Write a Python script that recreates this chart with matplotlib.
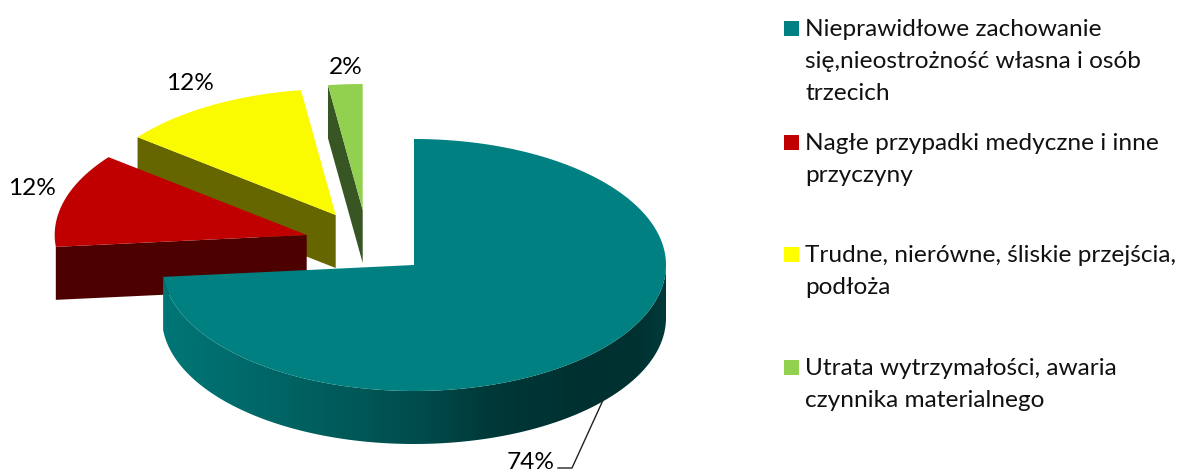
import numpy as np
import matplotlib
matplotlib.use("Agg")
import matplotlib.pyplot as plt
from matplotlib.patches import Polygon

# data
shares = [73.5, 12.1, 12.2, 2.2]
value_labels = ["74%", "12%", "12%", "2%"]
categories = [
    "Nieprawidłowe zachowanie\nsię,nieostrożność własna i osób\ntrzecich",
    "Nagłe przypadki medyczne i inne\nprzyczyny",
    "Trudne, nierówne, śliskie przejścia,\npodłoża",
    "Utrata wytrzymałości, awaria\nczynnika materialnego",
]
top_colors = ["#008080", "#C00000", "#FAFA00", "#92D050"]
legend_colors = ["#008080", "#C00000", "#FFFF00", "#92D050"]
cut_colors = [None, "#4D0000", "#666600", "#375623"]

# layout (pixels)
W, H = 1185, 473
CENTER = (414.0, 265.0)
RX, RY, DEPTH = 252.0, 126.0, 53.0
EXPLODE = [(0, 0), (-107.3, -30), (-78.3, -50), (-51.3, -55)]
LABEL_POS = [(531, 462.5), (32, 188), (190, 84), (345.5, 67)]
LEGEND_X, LEGEND_TEXT_X = 784, 805
LEGEND_FIRST_LINE = [28, 142, 254, 367]
LINE_STEP = 32
TEXT_DY = 1.5
FONT = "Lato"
FS = 17.6

fig = plt.figure(figsize=(W / 100, H / 100), dpi=100)
ax = fig.add_axes([0, 0, 1, 1])
ax.axis("off")


def point(deg, c):
    t = np.radians(deg)
    return c[0] + RX * np.sin(t), c[1] - RY * np.cos(t)


edges = np.concatenate([[0], np.cumsum(shares) * 3.6])
slices = [(edges[i], edges[i + 1], (CENTER[0] + EXPLODE[i][0], CENTER[1] + EXPLODE[i][1]))
          for i in range(len(shares))]


def top_poly(a0, a1, c):
    th = np.linspace(a0, a1, 200)
    xs, ys = point(th, c)
    return np.column_stack([np.r_[c[0], xs], np.r_[c[1], ys]])


def cut_face(deg, c):
    x, y = point(deg, c)
    return [(x, y), c, (c[0], c[1] + DEPTH), (x, y + DEPTH)]


# small slices, back to front
for i, z in [(3, 2), (2, 3), (1, 4)]:
    a0, a1, c = slices[i]
    ax.add_patch(Polygon(cut_face(a0, c), closed=True, fc=cut_colors[i], ec="none", zorder=z))
    ax.add_patch(Polygon(top_poly(a0, a1, c), closed=True, fc=top_colors[i], ec="none", zorder=z + 0.1))

# main slice: rim with a smooth left-to-right shade, clipped to the rim outline
a0, a1, c = slices[0]
stops_x = [163, 230, 330, 420, 490, 590, 640, 666]
stops = np.array([[0, 118, 118], [0, 108, 108], [0, 92, 92], [0, 76, 76],
                  [0, 56, 56], [0, 48, 48], [0, 50, 50], [0, 58, 58]], float) / 255
grad_x = np.arange(160, 670)
grad = np.stack([np.interp(grad_x, stops_x, stops[:, j]) for j in range(3)], axis=-1)[None, :, :]
img = ax.imshow(grad, extent=(160, 670, 460, 250), aspect="auto", zorder=5, interpolation="bilinear")
th = np.linspace(90, a1, 260)
xs, ys = point(th, c)
rim = Polygon(np.column_stack([np.r_[xs, xs[::-1]], np.r_[ys, ys[::-1] + DEPTH]]),
              closed=True, fc="none", ec="none", transform=ax.transData)
ax.add_patch(rim)
img.set_clip_path(rim)
ax.add_patch(Polygon(top_poly(a0, a1, c), closed=True, fc=top_colors[0], ec="none", zorder=6))

# leader line
ax.plot([604, 572, 558], [398, 468, 468], color="#222222", lw=1, zorder=7, solid_joinstyle="miter")

for s, (x, y) in zip(value_labels, LABEL_POS):
    ax.text(x, y, s, family=FONT, fontsize=FS, color="#000000", ha="center", va="center", zorder=8)

for cat, col, y0 in zip(categories, legend_colors, LEGEND_FIRST_LINE):
    ax.add_patch(Polygon([(LEGEND_X, y0 - 7), (LEGEND_X + 15, y0 - 7),
                          (LEGEND_X + 15, y0 + 8), (LEGEND_X, y0 + 8)],
                         closed=True, fc=col, ec="none"))
    for n, line in enumerate(cat.split("\n")):
        ax.text(LEGEND_TEXT_X, y0 + TEXT_DY + n * LINE_STEP, line, family=FONT, fontsize=FS,
                color="#111111", ha="left", va="center")

ax.set_xlim(0, W)
ax.set_ylim(H, 0)
fig.savefig("out.png", dpi=100, facecolor="white")
